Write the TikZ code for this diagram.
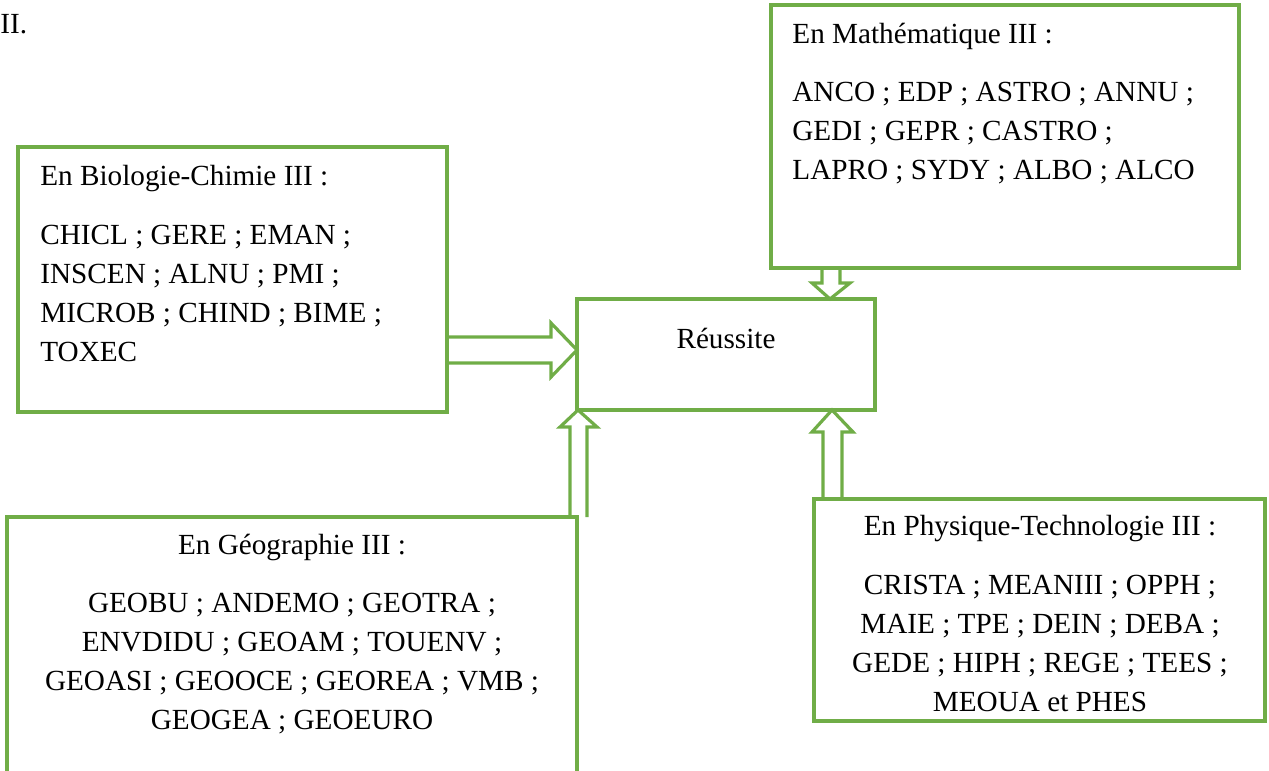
\documentclass[tikz,border=0pt]{standalone}
\usepackage{fontspec}
\setmainfont{Liberation Serif}
\definecolor{boxgreen}{HTML}{70AD47}

\begin{document}
\begin{tikzpicture}[x=0.5pt,y=-0.5pt,
    box/.style={draw=boxgreen, line width=1.6pt, rectangle, anchor=north west,
      outer sep=0pt, inner sep=0pt},
    hollow/.style={draw=boxgreen, line width=1.6pt},
    txt/.style={inner sep=0pt, font=\fontsize{14.6}{19.35}\selectfont}]
  \useasboundingbox (0,0) rectangle (1269,771);
  \clip (0,0) rectangle (1269,771);
  % boxes
  \node[box, minimum width=214.5pt, minimum height=132.5pt] (bio) at (18,147) {};
  \node[box, minimum width=234pt, minimum height=131.5pt] (mat) at (771,5) {};
  \node[box, minimum width=149pt, minimum height=55.5pt] (reu) at (577,299) {};
  \node[box, minimum width=225.5pt, minimum height=111pt] (phy) at (814,499) {};
  \node[box, minimum width=285pt, minimum height=140pt] (geo) at (7,517) {};
  % texts (base of a list = its last line)
  \node[txt, anchor=base west] (num) at (0,33) {II.};
  \node[txt, anchor=base west] (bio head) at (40,185) {En Biologie-Chimie III :};
  \node[txt, anchor=base west, align=left] (bio list) at (40,361)
    {CHICL ; GERE ; EMAN ;\\ INSCEN ; ALNU ; PMI ;\\ MICROB ; CHIND ; BIME ;\\ TOXEC};
  \node[txt, anchor=base west] (mat head) at (792,43) {En Mathématique III :};
  \node[txt, anchor=base west, align=left] (mat list) at (792,179)
    {ANCO ; EDP ; ASTRO ; ANNU ;\\ GEDI ; GEPR ; CASTRO ;\\ LAPRO ; SYDY ; ALBO ; ALCO};
  \node[txt, anchor=base] (reu text) at (726,348) {Réussite};
  \node[txt, anchor=base] (phy head) at (1040,535) {En Physique-Technologie III :};
  \node[txt, anchor=base, align=center] (phy list) at (1040,711)
    {CRISTA ; MEANIII ; OPPH ;\\ MAIE ; TPE ; DEIN ; DEBA ;\\ GEDE ; HIPH ; REGE ; TEES ;\\ MEOUA et PHES};
  \node[txt, anchor=base] (geo head) at (292,554) {En Géographie III :};
  \node[txt, anchor=base, align=center] (geo list) at (292,729)
    {GEOBU ; ANDEMO ; GEOTRA ;\\ ENVDIDU ; GEOAM ; TOUENV ;\\ GEOASI ; GEOOCE ; GEOREA ; VMB ;\\ GEOGEA ; GEOEURO};
  % block arrows
  \draw[hollow] (bio.east |- 0,337) -- (551,337) -- (551,323) -- (reu.west |- 0,350)
    -- (551,377) -- (551,363) -- (bio.east |- 0,363);
  \draw[hollow] (822,0 |- mat.south) -- (822,283) -- (812,283) -- (830,0 |- reu.north)
    -- (850,283) -- (840,283) -- (840,0 |- mat.south);
  \draw[hollow] (570,0 |- geo.north) -- (570,427) -- (560,427) -- (578,0 |- reu.south)
    -- (597,427) -- (587,427) -- (587,0 |- geo.north);
  \draw[hollow] (823,0 |- phy.north) -- (823,432) -- (812,432) -- (832,0 |- reu.south)
    -- (853,432) -- (842,432) -- (842,0 |- phy.north);
\end{tikzpicture}
\end{document}
